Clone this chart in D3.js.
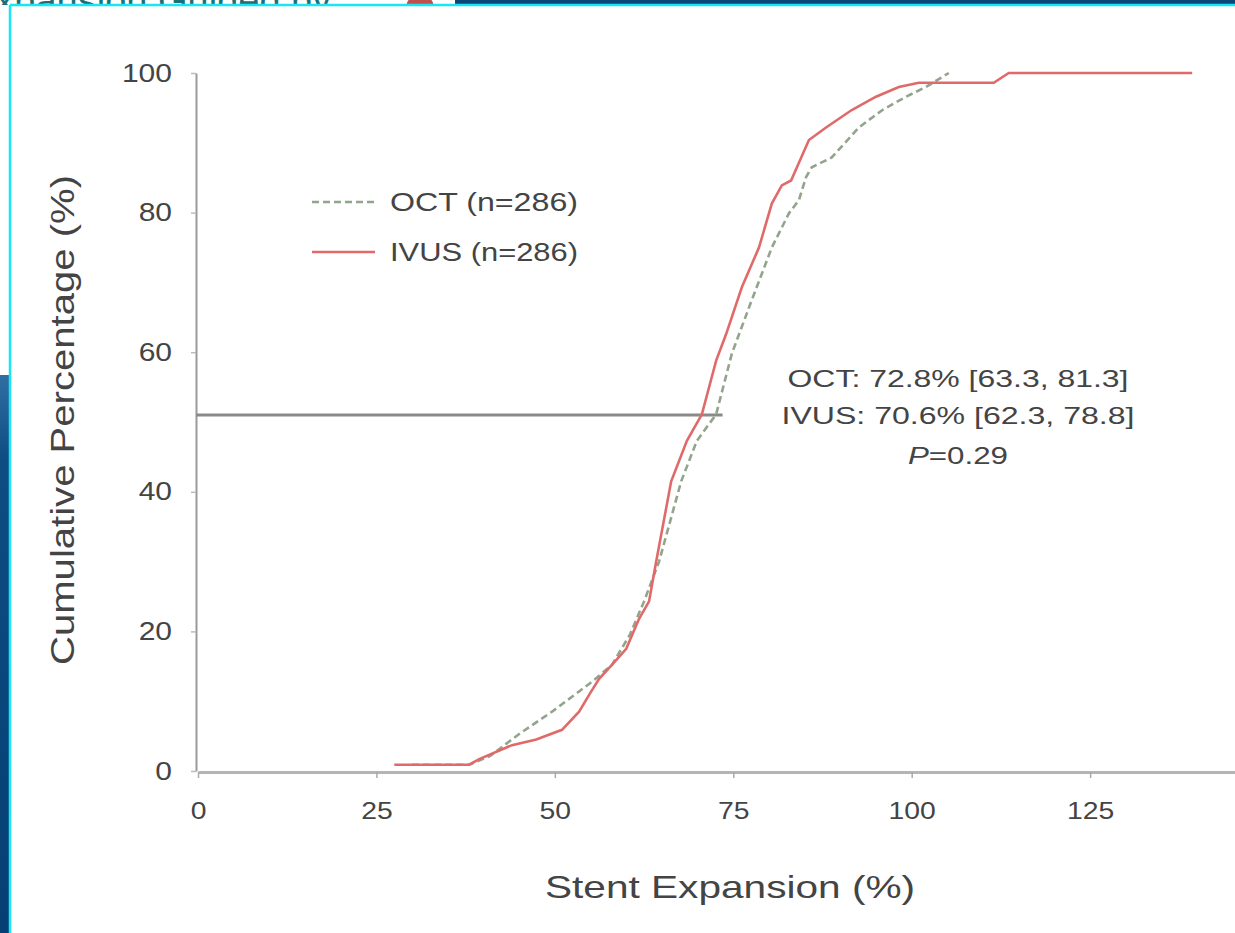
<!DOCTYPE html>
<html>
<head>
<meta charset="utf-8">
<script src="https://cdn.jsdelivr.net/npm/d3@7"></script>
<style>
  html, body { margin: 0; padding: 0; background: #fff; }
  svg { display: block; font-family: "Liberation Sans", Arial, sans-serif; }
</style>
</head>
<body>
<svg id="chart" width="1235" height="933"></svg>
<script>
// stent expansion (%) vs cumulative percentage (%)
const ivusX = [27.5, 38.0, 39.4, 44.0, 47.4, 51.0, 53.4, 54.8, 56.2, 58.0, 60.0, 61.8, 63.2, 64.2, 66.3, 68.5,
  70.6, 72.6, 74.0, 76.2, 78.6, 80.4, 81.8, 83.1, 85.6, 88.0, 91.6, 95.0, 98.2, 101.0, 111.5, 113.6, 139.3];
const ivusY = [0.9, 0.9, 1.7, 3.7, 4.5, 5.9, 8.5, 10.9, 13.2, 15.2, 17.5, 21.8, 24.3, 30.0, 41.5, 47.3,
  51.1, 58.8, 62.6, 69.3, 75.0, 81.3, 83.9, 84.6, 90.4, 92.2, 94.7, 96.6, 98.0, 98.6, 98.6, 100, 100];
const octX = [30.0, 38.0, 41.0, 45.0, 49.6, 53.4, 55.2, 58.0, 60.5, 62.5, 64.6, 67.7, 69.9, 72.6, 74.8,
  77.2, 80.4, 82.8, 84.2, 85.2, 86.0, 88.8, 92.6, 95.9, 99.2, 102.0, 105.2];
const octY = [0.9, 0.9, 2.2, 5.3, 8.5, 11.4, 12.8, 15.2, 19.5, 24.3, 30.0, 41.5, 47.3, 51.1, 59.8,
  66.4, 75.0, 79.9, 81.8, 85.1, 86.5, 87.9, 92.2, 94.7, 96.6, 98.0, 100];
const xTicks = [0, 25, 50, 75, 100, 125];
const yTicks = [0, 20, 40, 60, 80, 100];
const seriesNames = ["OCT (n=286)", "IVUS (n=286)"];
const statLines = ["OCT: 72.8% [63.3, 81.3]", "IVUS: 70.6% [62.3, 78.8]"];
const pValue = "0.29";
const medianLevel = 51;
const medianEnd = 73.5;

const svg = d3.select("#chart");

// page behind the figure (screenshot surroundings)
svg.append("rect").attr("x", 0).attr("y", 0).attr("width", 1235).attr("height", 933).attr("fill", "#fff");
svg.append("rect").attr("x", 455).attr("y", 0).attr("width", 780).attr("height", 5).attr("fill", "#0b4677");
const leftGrad = svg.append("defs").append("linearGradient").attr("id", "lg").attr("x1", 0).attr("y1", 0).attr("x2", 0).attr("y2", 1);
leftGrad.append("stop").attr("offset", "0").attr("stop-color", "#2f6fa3");
leftGrad.append("stop").attr("offset", "0.15").attr("stop-color", "#0d4d82");
leftGrad.append("stop").attr("offset", "1").attr("stop-color", "#063f73");
svg.append("rect").attr("x", 0).attr("y", 375).attr("width", 10).attr("height", 558).attr("fill", "url(#lg)");
svg.append("defs").append("clipPath").attr("id", "topclip")
  .append("rect").attr("x", 0).attr("y", 0).attr("width", 450).attr("height", 5);
svg.append("text").attr("clip-path", "url(#topclip)")
  .attr("x", -30).attr("y", 14).attr("font-size", 38).attr("fill", "#1c6f78")
  .text("Expansion Guided by");
svg.append("circle").attr("cx", 420).attr("cy", 8).attr("r", 14).attr("fill", "#c0504d")
  .attr("clip-path", "url(#topclip)");

// white panel with cyan frame
svg.append("rect").attr("x", 11).attr("y", 6).attr("width", 1224).attr("height", 927).attr("fill", "#fff");
svg.append("line").attr("x1", 10).attr("x2", 1235).attr("y1", 5).attr("y2", 5)
  .attr("stroke", "#19e6f5").attr("stroke-width", 2.5);
svg.append("line").attr("x1", 10).attr("x2", 10).attr("y1", 5).attr("y2", 933)
  .attr("stroke", "#19e6f5").attr("stroke-width", 2.5);

const x = d3.scaleLinear().domain([0, 146]).range([198, 1240]);
const y = d3.scaleLinear().domain([0, 100]).range([771, 73]);

function stretch(sel, k) {
  sel.each(function () {
    const w = this.getComputedTextLength();
    d3.select(this).attr("textLength", w * k).attr("lengthAdjust", "spacingAndGlyphs");
  });
}

// axes
const xAxis = svg.append("g").attr("transform", "translate(0," + 772 + ")")
  .call(d3.axisBottom(x).tickValues(xTicks).tickSize(6).tickSizeOuter(0).tickPadding(24));
xAxis.select(".domain").attr("stroke", "#b5b5b5").attr("stroke-width", 3);
xAxis.selectAll(".tick line").attr("stroke", "#aaa").attr("stroke-width", 1.5);
xAxis.selectAll("text").attr("font-size", 24).attr("fill", "#444").attr("font-family", "Liberation Sans, Arial");
stretch(xAxis.selectAll("text"), 1.18);

const yAxis = svg.append("g").attr("transform", "translate(196,0)")
  .call(d3.axisLeft(y).tickValues(yTicks).tickSize(5).tickSizeOuter(0).tickPadding(19));
yAxis.select(".domain").attr("stroke", "#9a9a9a").attr("stroke-width", 2);
yAxis.selectAll(".tick line").attr("stroke", "#bbb").attr("stroke-width", 1.5);
yAxis.selectAll("text").attr("font-size", 25).attr("fill", "#444").attr("font-family", "Liberation Sans, Arial");
stretch(yAxis.selectAll("text"), 1.2);

svg.append("text").attr("x", 730).attr("y", 898).attr("text-anchor", "middle")
  .attr("font-size", 32).attr("fill", "#444")
  .attr("textLength", 370).attr("lengthAdjust", "spacingAndGlyphs")
  .text("Stent Expansion (%)");
svg.append("text").attr("transform", "translate(74,420) rotate(-90)").attr("text-anchor", "middle")
  .attr("font-size", 33).attr("fill", "#444")
  .attr("textLength", 490).attr("lengthAdjust", "spacingAndGlyphs")
  .text("Cumulative Percentage (%)");

// median reference line
svg.append("line")
  .attr("x1", x(0) - 2).attr("x2", x(medianEnd))
  .attr("y1", y(medianLevel)).attr("y2", y(medianLevel))
  .attr("stroke", "#8a8a8a").attr("stroke-width", 3);

// curves
const line = d3.line().x(d => x(d[0])).y(d => y(d[1]));
const ivus = ivusX.map((v, i) => [v, ivusY[i]]);
const oct = octX.map((v, i) => [v, octY[i]]);

svg.append("path").datum(oct).attr("d", line)
  .attr("fill", "none").attr("stroke", "#93a48c").attr("stroke-width", 2.6)
  .attr("stroke-dasharray", "7,4");
svg.append("path").datum(ivus).attr("d", line)
  .attr("fill", "none").attr("stroke", "#e06a6a").attr("stroke-width", 2.6);

// legend
const legend = svg.append("g");
const legendY = [202, 252];
legend.append("line").attr("x1", 312).attr("x2", 375).attr("y1", legendY[0]).attr("y2", legendY[0])
  .attr("stroke", "#93a48c").attr("stroke-width", 2.6).attr("stroke-dasharray", "7,4");
legend.append("line").attr("x1", 312).attr("x2", 375).attr("y1", legendY[1]).attr("y2", legendY[1])
  .attr("stroke", "#e06a6a").attr("stroke-width", 2.6);
legend.selectAll("text.lg").data(seriesNames).join("text")
  .attr("class", "lg")
  .attr("x", 390).attr("y", (d, i) => legendY[i] + 9)
  .attr("font-size", 25).attr("fill", "#444")
  .attr("textLength", 188).attr("lengthAdjust", "spacingAndGlyphs")
  .text(d => d);

// statistics annotation
const statWidths = [341, 353];
svg.selectAll("text.stat").data(statLines).join("text")
  .attr("class", "stat")
  .attr("x", 958).attr("y", (d, i) => 387 + i * 37)
  .attr("text-anchor", "middle").attr("font-size", 24).attr("fill", "#444")
  .attr("textLength", (d, i) => statWidths[i]).attr("lengthAdjust", "spacingAndGlyphs")
  .text(d => d);
const pText = svg.append("text").attr("x", 958).attr("y", 464).attr("text-anchor", "middle")
  .attr("font-size", 24).attr("fill", "#444")
  .attr("textLength", 100).attr("lengthAdjust", "spacingAndGlyphs");
pText.append("tspan").attr("font-style", "italic").text("P");
pText.append("tspan").text("=" + pValue);
</script>
</body>
</html>
